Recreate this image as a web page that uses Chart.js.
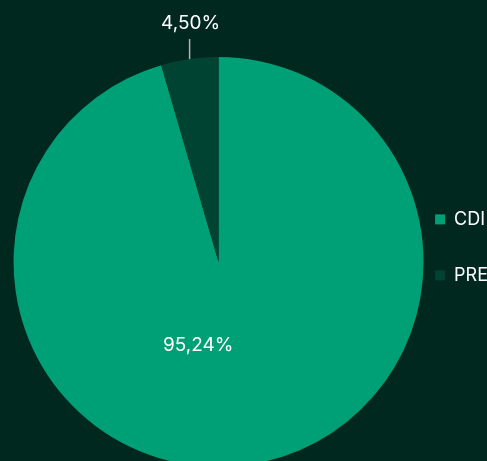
<!DOCTYPE html>
<html>
<head>
<meta charset="utf-8">
<script src="https://cdn.jsdelivr.net/npm/chart.js@4/dist/chart.umd.min.js"></script>
<style>
  html, body { margin: 0; padding: 0; background: #00281e; overflow: hidden; }
  #wrap { position: relative; width: 498px; height: 524px; }
</style>
</head>
<body>
<div id="wrap"><canvas id="pieChart"></canvas></div>
<script>
// Chart data
const categories = ['CDI', 'PRE'];
const shares = [95.24, 4.50];
const sliceColors = ['#00a077', '#004332'];

const fmt = v => v.toFixed(2).replace('.', ',') + '%';

// Draw percentage labels: big slice inside, small slice outside with a leader line
const sliceLabels = {
    id: 'sliceLabels',
    afterDatasetsDraw(chart) {
        const ctx = chart.ctx;
        const arcs = chart.getDatasetMeta(0).data;
        ctx.save();
        ctx.font = '19px Inter, "Noto Sans", sans-serif';
        ctx.fillStyle = '#ffffff';
        ctx.textAlign = 'center';
        ctx.textBaseline = 'middle';
        arcs.forEach((arc, i) => {
            const p = arc.getProps(['x', 'y', 'startAngle', 'endAngle', 'outerRadius']);
            const mid = (p.startAngle + p.endAngle) / 2;
            if (i === 0) {
                const a = mid + 0.38;
                const r = p.outerRadius * 0.42;
                ctx.fillText(fmt(shares[i]), p.x + r * Math.cos(a), p.y + r * Math.sin(a));
            } else {
                const ex = p.x + p.outerRadius * Math.cos(mid);
                const ey = p.y + p.outerRadius * Math.sin(mid);
                ctx.strokeStyle = '#b5b5b5';
                ctx.lineWidth = 1.5;
                ctx.beginPath();
                ctx.moveTo(ex, ey);
                ctx.lineTo(ex, ey - 20);
                ctx.stroke();
                ctx.fillText(fmt(shares[i]), ex + 1, ey - 36);
            }
        });
        ctx.restore();
    }
};

new Chart(document.getElementById('pieChart'), {
    type: 'pie',
    data: {
        labels: categories,
        datasets: [{
            data: shares,
            backgroundColor: sliceColors,
            borderWidth: 0
        }]
    },
    options: {
        responsive: true,
        maintainAspectRatio: false,
        animation: false,
        radius: 205,
        layout: { padding: { left: 40 } },
        plugins: {
            tooltip: { enabled: false },
            legend: {
                position: 'right',
                align: 'start',
                title: {
                    display: true,
                    text: ' ',
                    font: { size: 12 },
                    padding: { top: 0, bottom: 158 }
                },
                labels: {
                    color: '#ffffff',
                    boxWidth: 10,
                    boxHeight: 10,
                    padding: 38,
                    font: { size: 18, family: 'Inter, "Noto Sans", sans-serif' }
                }
            }
        }
    },
    plugins: [sliceLabels]
});
</script>
</body>
</html>
